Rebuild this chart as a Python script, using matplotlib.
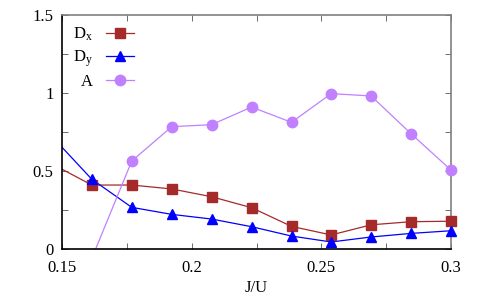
import numpy as np
import matplotlib
matplotlib.use('Agg')
import matplotlib.pyplot as plt
from matplotlib.ticker import MultipleLocator

# J/U values (first point lies just left of the visible range)
j_u = [0.1462, 0.1615, 0.1769, 0.1923, 0.2077, 0.2231, 0.2385, 0.2538, 0.2692, 0.2846, 0.3000]

d_x = [0.545, 0.41, 0.41, 0.385, 0.335, 0.265, 0.145, 0.09, 0.155, 0.175, 0.178]
d_y = [0.72, 0.447, 0.267, 0.222, 0.192, 0.143, 0.083, 0.045, 0.077, 0.10, 0.117]
a_vals = [-0.7, -0.06, 0.564, 0.784, 0.797, 0.91, 0.812, 0.996, 0.981, 0.739, 0.506]

plt.rcParams['font.family'] = ['Liberation Serif', 'DejaVu Serif']
plt.rcParams['mathtext.fontset'] = 'custom'
plt.rcParams['mathtext.rm'] = 'Liberation Serif'
plt.rcParams['mathtext.it'] = 'Liberation Serif'

XMIN, XMAX, YMIN, YMAX = 0.15, 0.3, 0, 1.5

fig = plt.figure(figsize=(4.8, 3.01), dpi=100)
ax = fig.add_axes([62 / 480, 1 - 249 / 301, 389 / 480, 234 / 301])

series = [
    (d_x, '#a52a2a', 's', 6.5, r'D$_\mathrm{x}$'),
    (d_y, '#0000ff', '^', 7.0, r'D$_\mathrm{y}$'),
    (a_vals, '#c080ff', 'o', 7.5, 'A'),
]
x = np.array(j_u)
for vals, col, mk, ms, lab in series:
    y = np.array(vals)
    ax.plot(x, y, color=col, lw=0.9)
    # gnuplot-style: points inside the range are drawn whole, even on the border
    inside = (x >= XMIN - 1e-9) & (x <= XMAX + 1e-9) & (y >= YMIN) & (y <= YMAX)
    ax.plot(x[inside], y[inside], ls='none', color=col, marker=mk, ms=ms, clip_on=False, zorder=3)
    ax.plot([], [], color=col, lw=0.9, marker=mk, ms=ms, label=lab)

ax.set_xlim(XMIN, XMAX)
ax.set_ylim(YMIN, YMAX)
ax.xaxis.set_minor_locator(MultipleLocator(0.025))
ax.yaxis.set_minor_locator(MultipleLocator(0.25))
ax.set_xticks([0.15, 0.2, 0.25, 0.3])
ax.set_xticklabels(['0.15', '0.2', '0.25', '0.3'])
ax.set_yticks([0, 0.5, 1, 1.5])
ax.set_yticklabels(['0', '0.5', '1', '1.5'])
ax.tick_params(which='both', direction='in', top=True, right=True, labelsize=12,
               length=4, width=0.6, color='#555555')
ax.tick_params(axis='x', pad=8)
ax.tick_params(axis='y', pad=6)

ax.spines['left'].set_color('black')
ax.spines['bottom'].set_color('black')
ax.spines['top'].set_color('#808080')
ax.spines['right'].set_color('#808080')
for s in ax.spines.values():
    s.set_linewidth(1.2)

ax.set_xlabel('J/U', fontsize=12, labelpad=3)

ax.legend(loc='upper left', markerfirst=False, frameon=False, fontsize=12,
          handlelength=1.7, handletextpad=0.8, labelspacing=0.3, borderaxespad=0.25)

fig.savefig('out.png', dpi=100)
